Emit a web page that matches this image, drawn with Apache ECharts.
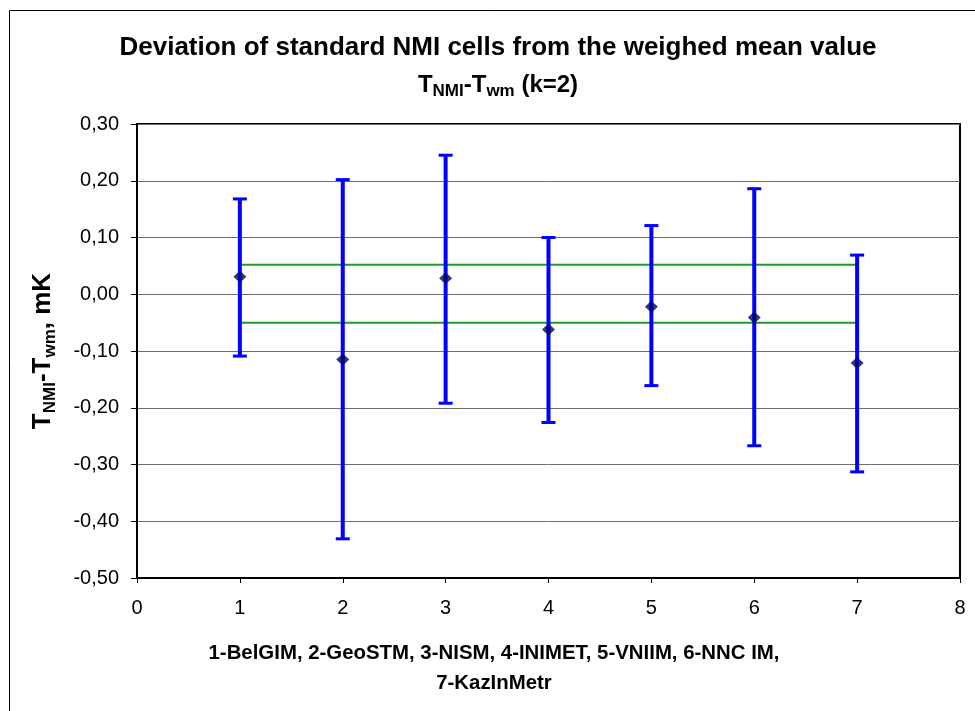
<!DOCTYPE html>
<html>
<head>
<meta charset="utf-8">
<script src="https://cdn.jsdelivr.net/npm/echarts@6/dist/echarts.min.js"></script>
<style>
  html, body { margin: 0; padding: 0; background: #fff; }
  #main { width: 975px; height: 711px; }
</style>
</head>
<body>
<div id="main"></div>
<script>
// laboratory number 1..7 (see x axis name)
var labs = [1, 2, 3, 4, 5, 6, 7];
// T_NMI - T_wm, mK
var deviation = [0.031, -0.115, 0.028, -0.062, -0.022, -0.041, -0.121];
// error bar ends (k=2)
var barHigh = [0.168, 0.202, 0.245, 0.100, 0.121, 0.186, 0.069];
var barLow = [-0.109, -0.431, -0.192, -0.226, -0.161, -0.267, -0.313];
// uncertainty band of the weighed mean
var meanBandX = [1, 7];
var meanBandHigh = 0.052;
var meanBandLow = -0.050;

var font = '"Liberation Sans", Arial, sans-serif';

var chart = echarts.init(document.getElementById('main'), null, { renderer: 'canvas' });

var points = labs.map(function (x, i) { return [x, deviation[i]]; });
var bars = labs.map(function (x, i) { return [x, barLow[i], barHigh[i]]; });

// vertical error bar with caps
function renderBar(params, api) {
  var x = api.value(0);
  var lo = api.coord([x, api.value(1)]);
  var hi = api.coord([x, api.value(2)]);
  var half = 7;
  var style = { stroke: '#0000ff', lineWidth: 4 };
  var capStyle = { stroke: '#0000ff', lineWidth: 3 };
  return {
    type: 'group',
    children: [
      { type: 'line', shape: { x1: lo[0], y1: lo[1], x2: hi[0], y2: hi[1] }, style: style },
      { type: 'line', shape: { x1: hi[0] - half, y1: hi[1], x2: hi[0] + half, y2: hi[1] }, style: capStyle },
      { type: 'line', shape: { x1: lo[0] - half, y1: lo[1], x2: lo[0] + half, y2: lo[1] }, style: capStyle }
    ]
  };
}

// big letters + lowered subscripts
var richSub = {
  b: { fontSize: 24, fontWeight: 'bold', fontFamily: font, color: '#000', lineHeight: 30 },
  s: { fontSize: 17, fontWeight: 'bold', fontFamily: font, color: '#000', lineHeight: 21, verticalAlign: 'bottom' }
};
var richName = {
  b: { fontSize: 26, fontWeight: 'bold', fontFamily: font, color: '#000', lineHeight: 32 },
  s: { fontSize: 17, fontWeight: 'bold', fontFamily: font, color: '#000', lineHeight: 22, verticalAlign: 'bottom' }
};

var option = {
  backgroundColor: '#fff',
  animation: false,
  graphic: [{
    type: 'rect',
    shape: { x: 9.5, y: 10.5, width: 980, height: 720 },
    style: { fill: 'none', stroke: '#000', lineWidth: 1 },
    silent: true
  }],
  title: [{
    text: 'Deviation of standard NMI cells from the weighed mean value',
    left: 498, top: 35, textAlign: 'center', padding: 0,
    textStyle: { fontSize: 26, fontWeight: 'bold', fontFamily: font, color: '#000' }
  }, {
    text: '{b|T}{s|NMI}{b|-T}{s|wm}{b| (k=2)}',
    left: 498, top: 70, textAlign: 'center', padding: 0,
    textStyle: { rich: richSub }
  }, {
    text: '1-BelGIM, 2-GeoSTM, 3-NISM, 4-INIMET, 5-VNIIM, 6-NNC IM,\n7-KazInMetr',
    left: 489, top: 633, textAlign: 'center',
    textStyle: { fontSize: 20.4, fontWeight: 'bold', fontFamily: font, color: '#000', lineHeight: 30 }
  }],
  grid: {
    left: 137, top: 124, width: 823, height: 454,
    show: true, borderColor: '#000', borderWidth: 2, backgroundColor: '#fff'
  },
  xAxis: {
    type: 'value',
    min: 0, max: 8, interval: 1,
    axisLine: { show: true, onZero: false, lineStyle: { color: '#000', width: 2 } },
    axisTick: { show: true, length: 5, lineStyle: { color: '#000' } },
    axisLabel: { fontSize: 20, fontFamily: font, color: '#000', margin: 20 },
    splitLine: { show: false }
  },
  yAxis: {
    type: 'value',
    min: -0.5, max: 0.3, interval: 0.1,
    name: '{b|T}{s|NMI}{b|-T}{s|wm}{b|, mK}',
    nameLocation: 'middle', nameRotate: 90, nameGap: 78,
    nameTextStyle: { rich: richName },
    axisLine: { show: true, lineStyle: { color: '#000', width: 2 } },
    axisTick: { show: true, length: 6, lineStyle: { color: '#000' } },
    axisLabel: {
      fontSize: 20, fontFamily: font, color: '#000', margin: 18,
      formatter: function (v) { return v.toFixed(2).replace('.', ','); }
    },
    splitLine: { show: true, lineStyle: { color: '#6e6e6e', width: 1 } }
  },
  series: [{
    type: 'line',
    data: meanBandX.map(function (x) { return [x, meanBandHigh]; }),
    symbol: 'none',
    lineStyle: { color: '#239a23', width: 2 },
    z: 2
  }, {
    type: 'line',
    data: meanBandX.map(function (x) { return [x, meanBandLow]; }),
    symbol: 'none',
    lineStyle: { color: '#239a23', width: 2 },
    z: 2
  }, {
    type: 'custom',
    renderItem: renderBar,
    data: bars,
    encode: { x: 0, y: [1, 2] },
    z: 3
  }, {
    type: 'scatter',
    data: points,
    symbol: 'diamond',
    symbolSize: [13, 12],
    itemStyle: { color: '#00006e' },
    z: 4
  }]
};

chart.setOption(option);
</script>
</body>
</html>
